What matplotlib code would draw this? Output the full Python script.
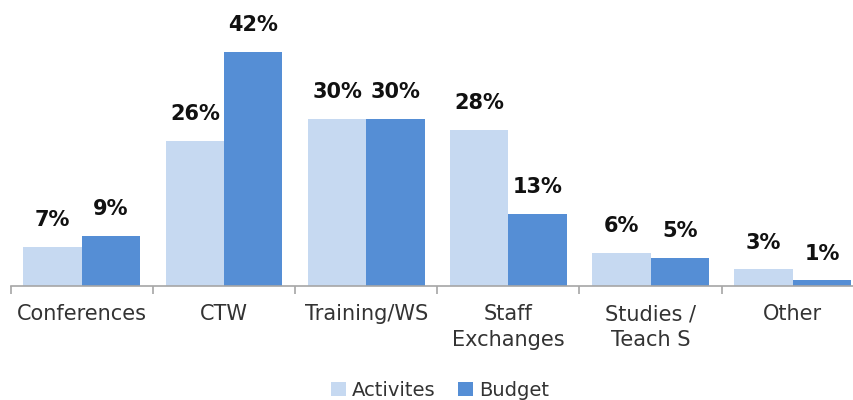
import matplotlib
matplotlib.use("Agg")
import matplotlib.pyplot as plt
import numpy as np

categories = ["Conferences", "CTW", "Training/WS", "Staff\nExchanges", "Studies /\nTeach S", "Other"]
activites = [7, 26, 30, 28, 6, 3]
budget = [9, 42, 30, 13, 5, 1]
series_names = ["Activites", "Budget"]

light = "#C6D9F1"
dark = "#558ED5"

fig = plt.figure(figsize=(8.54, 4.0), dpi=100)
ax = fig.add_axes([10.7/854, 1-286/400, 6*142.2/854, 286/400])
n = len(categories)
x = np.arange(n)
w = 0.41
b1 = ax.bar(x - w/2, activites, w, color=light, label=series_names[0])
b2 = ax.bar(x + w/2, budget, w, color=dark, label=series_names[1])
for bars, vals in ((b1, activites), (b2, budget)):
    for r, v in zip(bars, vals):
        ax.text(r.get_x() + r.get_width()/2, v + 3.0, f"{v}%", ha="center", va="bottom",
                fontsize=15, fontweight="bold", color="#111111")

ax.set_xlim(-0.5, n - 0.5)
ax.set_ylim(0, 286/5.57)
for s in ("top", "right", "left"):
    ax.spines[s].set_visible(False)
ax.spines["bottom"].set_color("#A6A6A6")
ax.spines["bottom"].set_linewidth(1.2)
ax.set_yticks([])
ax.set_xticks(x)
ax.set_xticklabels(categories, fontsize=15, color="#333333", linespacing=1.35)
ax.tick_params(axis="x", which="major", length=0, pad=13)
ax.set_xticks(np.arange(-0.5, n, 1.0), minor=True)
ax.tick_params(axis="x", which="minor", length=6, color="#A6A6A6", width=1.2)

fig.legend(handles=[b1, b2], labels=series_names, loc="center", bbox_to_anchor=(440/854, 1-390/400),
           ncol=2, frameon=False, fontsize=14, handlelength=0.75, handleheight=0.75,
           handletextpad=0.3, columnspacing=1.2, labelcolor="#333333")

fig.savefig("out.png", dpi=100)
